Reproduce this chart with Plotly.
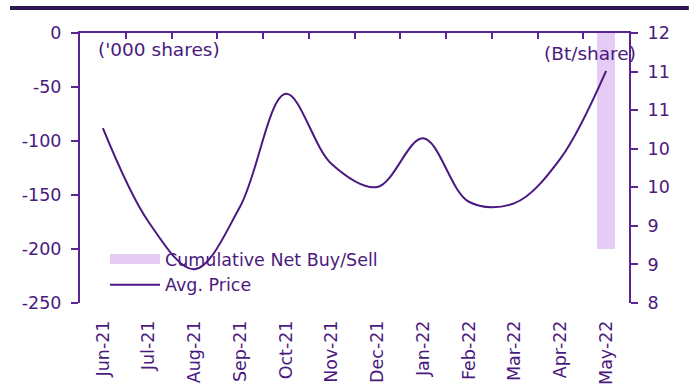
import plotly.graph_objects as go

# Monthly categories
months = ["Jun-21", "Jul-21", "Aug-21", "Sep-21", "Oct-21", "Nov-21",
          "Dec-21", "Jan-22", "Feb-22", "Mar-22", "Apr-22", "May-22"]

# Cumulative net buy/sell ('000 shares) – only the latest month is populated
net_buy_sell = [None, None, None, None, None, None,
                None, None, None, None, None, -200]

# Average price (Bt/share)
avg_price = [10.59, 9.20, 8.50, 9.43, 11.10, 10.06,
             9.72, 10.44, 9.50, 9.48, 10.14, 11.44]

# Left-axis ticks, written with a plain hyphen
volume_ticks = [0, -50, -100, -150, -200, -250]
volume_labels = ["0", "-50", "-100", "-150", "-200", "-250"]

# Right-axis ticks: 7 equal steps from 8 to 12
price_ticks = [8 + k * 4 / 7 for k in range(8)]

TEXT = "#4a1a7e"
AXIS = "#5a2590"
LINE = "#4b1882"
BAR = "#e5ccf5"
FONT = "DejaVu Sans"
FS = 17.5

fig = go.Figure()

fig.add_trace(go.Bar(
    x=months, y=net_buy_sell, name="Cumulative Net Buy/Sell",
    marker=dict(color=BAR, line=dict(width=0)),
    width=0.39, showlegend=False, yaxis="y", xaxis="x",
))
# legend entry for the bars, drawn as a wide block
fig.add_trace(go.Scatter(
    x=[None], y=[None], mode="lines", name="Cumulative Net Buy/Sell",
    line=dict(color=BAR, width=12), yaxis="y", xaxis="x",
))
fig.add_trace(go.Scatter(
    x=months, y=avg_price, mode="lines", name="Avg. Price",
    line=dict(color=LINE, width=2, shape="spline", smoothing=1.0),
    yaxis="y2", xaxis="x",
))
# invisible trace that carries the top category axis
fig.add_trace(go.Scatter(
    x=months, y=[None] * len(months), mode="lines", showlegend=False,
    hoverinfo="skip", xaxis="x2", yaxis="y",
))

fig.update_layout(
    width=692, height=388,
    margin=dict(l=80, r=63, t=33, b=85),
    paper_bgcolor="white", plot_bgcolor="white",
    font=dict(family=FONT, size=FS, color=TEXT),
    bargap=0,
    xaxis=dict(
        type="category", range=[-0.5, 11.5], showline=False, showgrid=False,
        zeroline=False, ticks="", tickangle=-90, ticklabelstandoff=13,
        automargin=False,
        tickfont=dict(family=FONT, size=FS, color=TEXT),
    ),
    xaxis2=dict(
        type="category", overlaying="x", side="top", matches="x",
        range=[-0.5, 11.5], showline=True, linecolor=AXIS, linewidth=2,
        ticks="inside", ticklen=6, tickwidth=2, tickcolor=AXIS,
        tickson="boundaries", showticklabels=False, showgrid=False,
        zeroline=False, automargin=False,
    ),
    yaxis=dict(
        range=[-250, 0], tickvals=volume_ticks, ticktext=volume_labels,
        showline=True, linecolor=AXIS, linewidth=2, ticks="outside",
        ticklen=7, tickwidth=2, tickcolor=AXIS, showgrid=False,
        zeroline=False, ticklabelstandoff=6, automargin=False,
        tickfont=dict(family=FONT, size=FS, color=TEXT),
    ),
    yaxis2=dict(
        range=[8, 12], overlaying="y", side="right", tickvals=price_ticks,
        tickformat=".0f", showline=True, linecolor=AXIS, linewidth=2,
        ticks="outside", ticklen=7, tickwidth=2, tickcolor=AXIS,
        showgrid=False, zeroline=False, ticklabelstandoff=6,
        automargin=False,
        tickfont=dict(family=FONT, size=FS, color=TEXT),
    ),
    legend=dict(
        x=0.0455, y=0.2296, xanchor="left", yanchor="top",
        bgcolor="rgba(0,0,0,0)", itemwidth=50, tracegroupgap=0,
        font=dict(family=FONT, size=FS, color=TEXT),
    ),
    annotations=[
        dict(text="('000 shares)", xref="paper", yref="paper",
             x=0.03, y=0.94, xanchor="left", yanchor="middle",
             showarrow=False, font=dict(family=FONT, size=18.5, color=TEXT)),
        dict(text="(Bt/share)", xref="paper", yref="paper",
             x=1.017, y=0.925, xanchor="right", yanchor="middle",
             showarrow=False, font=dict(family=FONT, size=18.5, color=TEXT)),
    ],
    shapes=[
        dict(type="line", xref="paper", yref="paper",
             x0=-0.1275, x1=1.109, y0=1.0926, y1=1.0926,
             line=dict(color="#2d1650", width=4)),
    ],
)

fig.write_html("out.html")
